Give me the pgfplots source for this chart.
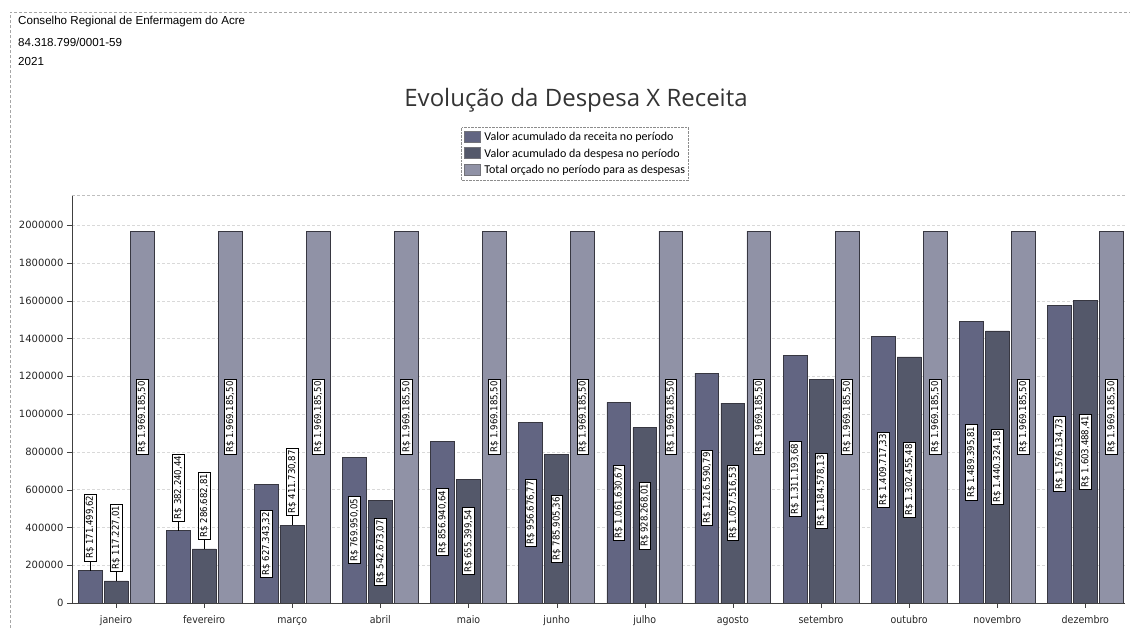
\documentclass[border=0pt]{standalone}
\usepackage{pgfplots}
\usepackage{pgfplotstable}
\pgfplotsset{compat=1.18}
\usepackage{fontspec}
\setmainfont{DejaVu Sans}
\newfontfamily\hdr{Liberation Sans}
\newfontfamily\ttl{Open Sans}
\newfontfamily\lgd{Carlito}
\newfontfamily\lbl{DejaVu Sans Condensed}

\definecolor{cr}{RGB}{98,101,130}
\definecolor{cd}{RGB}{84,88,106}
\definecolor{ct}{RGB}{144,146,166}
\definecolor{edge}{RGB}{55,55,65}

\tikzset{lblsty/.style={rotate=90, fill=white, draw=black, solid, line width=0.6pt,
    font=\lbl\fontsize{9.5}{10}\selectfont, inner xsep=2pt, inner ysep=1.5pt, text=black}}

\pgfplotstableread[col sep=semicolon]{
x;r;rl;d;dl;t;tl
0;171499.62;171.499,62;117227.01;117.227,01;1969185.50;1.969.185,50
1;382240.44;382.240,44;286682.81;286.682,81;1969185.50;1.969.185,50
2;627343.32;627.343,32;411730.87;411.730,87;1969185.50;1.969.185,50
3;769950.05;769.950,05;542673.07;542.673,07;1969185.50;1.969.185,50
4;856940.64;856.940,64;655399.54;655.399,54;1969185.50;1.969.185,50
5;956676.77;956.676,77;785905.36;785.905,36;1969185.50;1.969.185,50
6;1061630.67;1.061.630,67;928268.01;928.268,01;1969185.50;1.969.185,50
7;1216590.79;1.216.590,79;1057516.53;1.057.516,53;1969185.50;1.969.185,50
8;1311193.68;1.311.193,68;1184578.13;1.184.578,13;1969185.50;1.969.185,50
9;1409717.33;1.409.717,33;1302455.48;1.302.455,48;1969185.50;1.969.185,50
10;1489395.81;1.489.395,81;1440324.18;1.440.324,18;1969185.50;1.969.185,50
11;1576134.73;1.576.134,73;1603488.41;1.603.488,41;1969185.50;1.969.185,50
}\data

\begin{document}
\begin{tikzpicture}
\useasboundingbox (0,0) rectangle (1130pt,628pt);
\draw[gray!70, densely dashed, line width=0.8pt] (10pt,0) -- (10pt,616pt) -- (1130pt,616pt);
\node[anchor=west, font=\hdr\fontsize{11.6}{13}\selectfont, inner sep=0] at (18pt,606pt) {Conselho Regional de Enfermagem do Acre};
\node[anchor=west, font=\hdr\fontsize{11.6}{13}\selectfont, inner sep=0] at (18pt,586pt) {84.318.799/0001-59};
\node[anchor=west, font=\hdr\fontsize{11.6}{13}\selectfont, inner sep=0] at (18pt,566pt) {2021};
\node[font=\ttl\fontsize{24}{27}\selectfont, text=black!80] at (576pt,528pt) {Evolução da Despesa X Receita};

\begin{axis}[
  at={(72pt,25pt)}, anchor=south west,
  scale only axis, width=1053pt, height=408pt,
  xmin=-0.5, xmax=11.45, ymin=0, ymax=2160000,
  axis x line*=bottom, axis y line*=left,
  axis line style={black!75, line width=0.8pt},
  tick align=outside, major tick length=5pt,
  tick style={black!75},
  xtick={0,...,11},
  xticklabels={janeiro,fevereiro,março,abril,maio,junho,julho,agosto,setembro,outubro,novembro,dezembro},
  xticklabel style={font=\lbl\fontsize{10.5}{12}\selectfont, text height=1.6ex, text depth=0.5ex, yshift=-3pt},
  ytick={0,200000,...,2000000},
  scaled y ticks=false,
  yticklabel style={/pgf/number format/fixed, /pgf/number format/1000 sep={}, /pgf/number format/assume math mode=true, font=\fontsize{10}{12}\selectfont},
  ticklabel style={text=black!85},
  ymajorgrids, grid style={densely dashed, black!15},
  legend style={at={(axis description cs:0.4777,1.1667)}, anchor=north,
    draw=black!45, densely dotted, font=\lgd\fontsize{12}{13}\selectfont,
    row sep=4pt, inner xsep=2pt, inner ysep=4pt, nodes={inner sep=1.2pt}},
  legend cell align=left,
  mybar/.style={ybar, bar width=0.27, draw=edge, line width=0.6pt, fill=#1,
    legend image code/.code={\draw[fill=#1, draw=edge!70, solid, line width=0.4pt] (0pt,-5pt) rectangle (16pt,6pt); \path (19pt,0pt);}},
]
\draw[black!25, densely dashed] (rel axis cs:0,1) -- (rel axis cs:1,1);

\addplot[mybar=cr, bar shift=-0.295] table[x=x, y=r] \data;
\addlegendentry{Valor acumulado da receita no período}
\addplot[mybar=cd, bar shift=0] table[x=x, y=d] \data;
\addlegendentry{Valor acumulado da despesa no período}
\addplot[mybar=ct, bar shift=0.295] table[x=x, y=t] \data;
\addlegendentry{Total orçado no período para as despesas}

% connectors for labels above short bars
\addplot[forget plot, draw=none, mark=none, restrict x to domain=-1:1.5,
  error bars/.cd, y dir=plus, y fixed=50000, error mark=none, error bar style={black, solid, line width=0.7pt}]
  table[x expr=\thisrow{x}-0.295, y=r] \data;
\addplot[forget plot, draw=none, mark=none, restrict x to domain=-1:2.5,
  error bars/.cd, y dir=plus, y fixed=50000, error mark=none, error bar style={black, solid, line width=0.7pt}]
  table[x=x, y=d] \data;

% labels receita
\addplot[forget plot, draw=none, mark=none, restrict x to domain=1.5:12,
  nodes near coords={R\$ \pgfplotspointmeta}, point meta=explicit symbolic,
  nodes near coords style={lblsty, anchor=center}]
  table[x expr=\thisrow{x}-0.295, y expr=\thisrow{r}/2, meta=rl] \data;
\addplot[forget plot, draw=none, mark=none, restrict x to domain=-1:1.5,
  nodes near coords={R\$ \pgfplotspointmeta}, point meta=explicit symbolic,
  nodes near coords style={lblsty, anchor=west}]
  table[x expr=\thisrow{x}-0.295, y expr=\thisrow{r}+50000, meta=rl] \data;
% labels despesa
\addplot[forget plot, draw=none, mark=none, restrict x to domain=2.5:12,
  nodes near coords={R\$ \pgfplotspointmeta}, point meta=explicit symbolic,
  nodes near coords style={lblsty, anchor=center}]
  table[x=x, y expr=\thisrow{d}/2, meta=dl] \data;
\addplot[forget plot, draw=none, mark=none, restrict x to domain=-1:2.5,
  nodes near coords={R\$ \pgfplotspointmeta}, point meta=explicit symbolic,
  nodes near coords style={lblsty, anchor=west}]
  table[x=x, y expr=\thisrow{d}+50000, meta=dl] \data;
% labels total
\addplot[forget plot, draw=none, mark=none,
  nodes near coords={R\$ \pgfplotspointmeta}, point meta=explicit symbolic,
  nodes near coords style={lblsty, anchor=center}]
  table[x expr=\thisrow{x}+0.295, y expr=\thisrow{t}/2, meta=tl] \data;
\end{axis}
\end{tikzpicture}
\end{document}
